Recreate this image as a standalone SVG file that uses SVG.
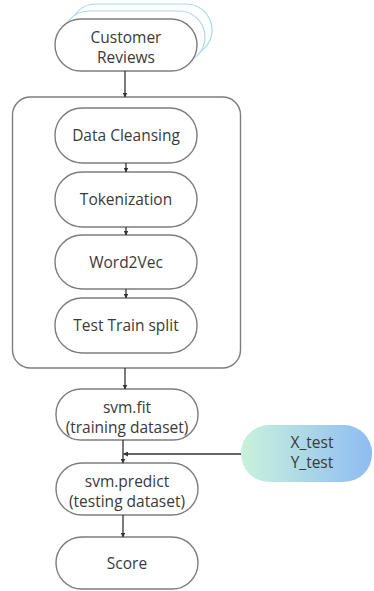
<svg xmlns="http://www.w3.org/2000/svg" width="374" height="591" viewBox="0 0 374 591">
  <style>
    .node { fill: #ffffff; stroke: #7d7d7d; stroke-width: 1.4; }
    .stack { fill: #ffffff; stroke: #a9dbe6; stroke-width: 1.2; }
    .frame { fill: none; stroke: #7d7d7d; stroke-width: 1.4; }
    .label { font-family: "Open Sans", "Liberation Sans", sans-serif; font-size: 15.5px; fill: #3a3a3a; text-anchor: middle; }
    .edge { fill: none; stroke: #333333; stroke-width: 1.3; }
  </style>
  <defs>
    <marker id="arrow" viewBox="0 0 10 10" refX="9" refY="5" markerWidth="5" markerHeight="5" orient="auto" markerUnits="userSpaceOnUse">
      <path d="M0,0 L10,5 L0,10 z" fill="#333333"/>
    </marker>
    <linearGradient id="testGrad" x1="0" y1="0" x2="1" y2="0">
      <stop offset="0" stop-color="#c9f2dc"/>
      <stop offset="1" stop-color="#8ebcf2"/>
    </linearGradient>
  </defs>

  <!-- pipeline frame -->
  <rect class="frame" x="12.5" y="97" width="228" height="271" rx="18"/>

  <g id="customer-reviews">
    <rect class="stack" x="70" y="4" width="142" height="52" rx="26"/>
    <rect class="stack" x="63" y="11" width="142" height="52" rx="26"/>
    <rect class="node" x="55" y="19" width="142" height="52" rx="26"/>
    <text class="label" x="126" y="43">Customer</text>
    <text class="label" x="126" y="63">Reviews</text>
  </g>

  <g id="data-cleansing">
    <rect class="node" x="55" y="108" width="142" height="55" rx="27"/>
    <text class="label" x="126" y="141">Data Cleansing</text>
  </g>

  <g id="tokenization">
    <rect class="node" x="55" y="172" width="142" height="55" rx="27"/>
    <text class="label" x="126" y="205">Tokenization</text>
  </g>

  <g id="word2vec">
    <rect class="node" x="55" y="235" width="142" height="54" rx="27"/>
    <text class="label" x="126" y="268">Word2Vec</text>
  </g>

  <g id="test-train-split">
    <rect class="node" x="55" y="298" width="142" height="55" rx="27"/>
    <text class="label" x="126" y="331">Test Train split</text>
  </g>

  <g id="svm-fit">
    <rect class="node" x="56" y="389" width="142" height="51" rx="25"/>
    <text class="label" x="127" y="413">svm.fit</text>
    <text class="label" x="127" y="433">(training dataset)</text>
  </g>

  <g id="xy-test">
    <rect x="241" y="425" width="131" height="57" rx="28" fill="url(#testGrad)"/>
    <text class="label" x="312" y="448">X_test</text>
    <text class="label" x="312" y="468">Y_test</text>
  </g>

  <g id="svm-predict">
    <rect class="node" x="56" y="463" width="142" height="52" rx="26"/>
    <text class="label" x="127" y="487">svm.predict</text>
    <text class="label" x="127" y="507">(testing dataset)</text>
  </g>

  <g id="score">
    <rect class="node" x="56" y="537" width="142" height="52" rx="26"/>
    <text class="label" x="127" y="569">Score</text>
  </g>

  <g id="connectors">
    <line class="edge" x1="125" y1="71" x2="125" y2="97" marker-end="url(#arrow)"/>
    <line class="edge" x1="126" y1="163" x2="126" y2="172" marker-end="url(#arrow)"/>
    <line class="edge" x1="126" y1="227" x2="126" y2="235" marker-end="url(#arrow)"/>
    <line class="edge" x1="126" y1="289" x2="126" y2="298" marker-end="url(#arrow)"/>
    <line class="edge" x1="125" y1="368" x2="125" y2="389" marker-end="url(#arrow)"/>
    <line class="edge" x1="123" y1="440" x2="123" y2="463" marker-end="url(#arrow)"/>
    <line class="edge" x1="241" y1="454" x2="123.5" y2="454" marker-end="url(#arrow)"/>
    <line class="edge" x1="123" y1="515" x2="123" y2="537" marker-end="url(#arrow)"/>
  </g>
</svg>
